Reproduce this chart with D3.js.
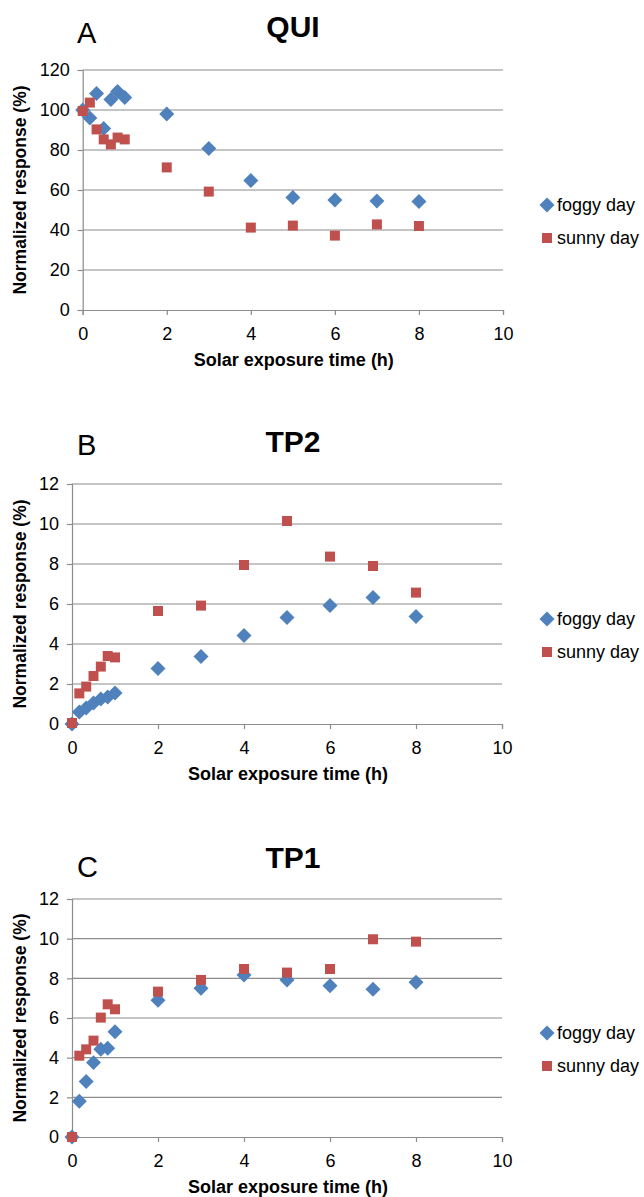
<!DOCTYPE html>
<html>
<head>
<meta charset="utf-8">
<script src="https://cdn.jsdelivr.net/npm/d3@7"></script>
<style>
  body { margin: 0; background: #fff; }
  text { font-family: "Liberation Sans", Arial, sans-serif; }
</style>
</head>
<body>
<div id="vis"></div>
<script>
var width = 644;
var height = 1197;

// exposure times (h)
var times = [0, 0.17, 0.33, 0.5, 0.67, 0.83, 1, 2, 3, 4, 5, 6, 7, 8];

var qui_foggy = [100, 96, 108.3, 90.8, 105.3, 109.2, 106.3, 98, 80.8, 64.7, 56.2, 55, 54.5, 54.2];
var qui_sunny = [99.5, 103.7, 90.3, 85.3, 82.8, 86.2, 85.3, 71.3, 59.2, 41.2, 42.2, 37.2, 42.8, 42];

var tp2_foggy = [0, 0.6, 0.8, 1.05, 1.25, 1.35, 1.55, 2.78, 3.37, 4.42, 5.32, 5.93, 6.33, 5.37];
var tp2_sunny = [0.05, 1.53, 1.87, 2.4, 2.87, 3.4, 3.33, 5.65, 5.92, 7.95, 10.15, 8.37, 7.9, 6.57];

var tp1_foggy = [0, 1.8, 2.8, 3.75, 4.42, 4.47, 5.31, 6.9, 7.5, 8.17, 7.92, 7.63, 7.45, 7.8];
var tp1_sunny = [0, 4.1, 4.42, 4.86, 6.02, 6.69, 6.44, 7.33, 7.92, 8.47, 8.29, 8.47, 9.97, 9.85];

var x_ticks = [0, 2, 4, 6, 8, 10];
var qui_ticks = [0, 20, 40, 60, 80, 100, 120];
var tp_ticks = [0, 2, 4, 6, 8, 10, 12];

var series_names = ["foggy day", "sunny day"];
var colors = {"foggy day": "#4F81BD", "sunny day": "#C0504D"};

var panels = [
  {letter: "A", title: "QUI", foggy: qui_foggy, sunny: qui_sunny, y_max: 120, ticks: qui_ticks,
   left: 82.7, right: 503, top: 70, bottom: 310, title_y: 37, letter_y: 43},
  {letter: "B", title: "TP2", foggy: tp2_foggy, sunny: tp2_sunny, y_max: 12, ticks: tp_ticks,
   left: 72, right: 502, top: 484, bottom: 724, title_y: 452, letter_y: 455},
  {letter: "C", title: "TP1", foggy: tp1_foggy, sunny: tp1_sunny, y_max: 12, ticks: tp_ticks,
   left: 72, right: 502, top: 899, bottom: 1137, title_y: 868, letter_y: 877}
];

var svg = d3.select("#vis").append("svg")
  .attr("width", width)
  .attr("height", height);

var diamond = d3.symbol().type(d3.symbolSquare).size(112);
var square = d3.symbol().type(d3.symbolSquare).size(100);

function draw_panel(p){
  var g = svg.append("g");

  var x_scale = d3.scaleLinear().domain([0, 10]).range([p.left, p.right]);
  var y_scale = d3.scaleLinear().domain([0, p.y_max]).range([p.bottom, p.top]);

  // gridlines
  g.selectAll(".grid")
    .data(p.ticks.filter(d => d > 0))
    .enter().append("line")
    .attr("class", "grid")
    .attr("x1", p.left).attr("x2", p.right)
    .attr("y1", d => y_scale(d)).attr("y2", d => y_scale(d))
    .attr("stroke", "#8c8c8c")
    .attr("stroke-width", 1.2);

  var y_axis = g.append("g")
    .attr("transform", "translate(" + p.left + ",0)")
    .call(d3.axisLeft(y_scale).tickValues(p.ticks).tickSize(5).tickPadding(8));
  var x_axis = g.append("g")
    .attr("transform", "translate(0," + p.bottom + ")")
    .call(d3.axisBottom(x_scale).tickValues(x_ticks).tickSize(5).tickPadding(12));

  [y_axis, x_axis].forEach(function(ax){
    ax.select(".domain").attr("stroke", "#8c8c8c").attr("stroke-width", 1.2);
    ax.selectAll(".tick line").attr("stroke", "#8c8c8c").attr("stroke-width", 1.2);
    ax.selectAll(".tick text")
      .attr("fill", "#000")
      .style("font-family", "'Liberation Sans', Arial, sans-serif")
      .style("font-size", "18px");
  });

  var pts_foggy = times.map((t, i) => ({x: t, y: p.foggy[i]}));
  var pts_sunny = times.map((t, i) => ({x: t, y: p.sunny[i]}));

  g.selectAll(".foggy")
    .data(pts_foggy)
    .enter().append("path")
    .attr("class", "foggy")
    .attr("d", diamond)
    .attr("transform", d => "translate(" + x_scale(d.x) + "," + y_scale(d.y) + ") rotate(45)")
    .attr("fill", colors["foggy day"]);

  g.selectAll(".sunny")
    .data(pts_sunny)
    .enter().append("path")
    .attr("class", "sunny")
    .attr("d", square)
    .attr("transform", d => "translate(" + x_scale(d.x) + "," + y_scale(d.y) + ")")
    .attr("fill", colors["sunny day"]);

  // titles
  g.append("text")
    .attr("x", 293).attr("y", p.title_y)
    .attr("text-anchor", "middle")
    .style("font-size", "30px").style("font-weight", "bold")
    .text(p.title);
  g.append("text")
    .attr("x", 77).attr("y", p.letter_y)
    .style("font-size", "29px")
    .text(p.letter);

  g.append("text")
    .attr("x", (p.left + p.right) / 2 + 1).attr("y", p.bottom + 56)
    .attr("text-anchor", "middle")
    .style("font-size", "18px").style("font-weight", "bold")
    .text("Solar exposure time (h)");

  var mid_y = (p.top + p.bottom) / 2;
  g.append("text")
    .attr("transform", "translate(26," + mid_y + ") rotate(-90)")
    .attr("text-anchor", "middle")
    .style("font-size", "17.5px").style("font-weight", "bold")
    .text("Normalized response (%)");

  // legend
  var legend = g.selectAll(".legend")
    .data(series_names)
    .enter().append("g")
    .attr("class", "legend")
    .attr("transform", (d, i) => "translate(547," + (mid_y + 15 + i * 33) + ")");
  legend.append("path")
    .attr("d", (d, i) => i == 0 ? diamond() : square())
    .attr("transform", (d, i) => i == 0 ? "rotate(45)" : "")
    .attr("fill", d => colors[d]);
  legend.append("text")
    .attr("x", 10).attr("y", 6)
    .style("font-size", "18px")
    .text(d => d);
}

panels.forEach(draw_panel);
</script>
</body>
</html>
